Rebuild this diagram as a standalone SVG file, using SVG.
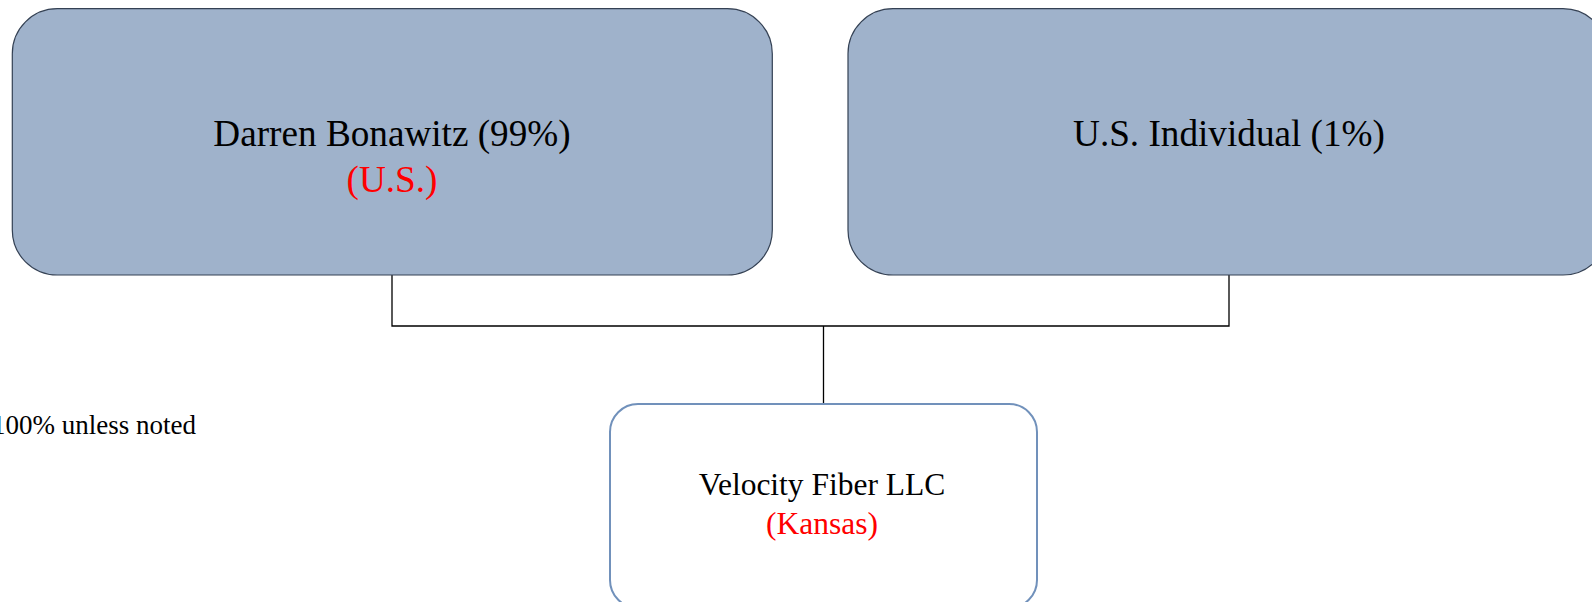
<svg xmlns="http://www.w3.org/2000/svg" width="1592" height="602" viewBox="0 0 1592 602">
<style>
.owner{fill:#9fb2cb;stroke:#344154;stroke-width:1.2}
.ent{fill:#ffffff;stroke:#7191bb;stroke-width:2}
.t{font-family:"Liberation Serif","Times New Roman",serif;text-anchor:middle;fill:#000}
.red{fill:#ff0000}
.conn{stroke:#000;stroke-width:1.3;fill:none}
</style>
<rect width="1592" height="602" fill="#fff"/>
<g id="connectors">
<path class="conn" d="M392 275V326H1229V275M823.5 326V404"/>
</g>
<g id="node-darren">
<rect class="owner" x="12.3" y="8.7" width="760" height="266.3" rx="45" ry="45"/>
<text class="t" x="392" y="146" font-size="37.2">Darren Bonawitz (99%)</text>
<text class="t red" x="392" y="192" font-size="37.2">(U.S.)</text>
</g>
<g id="node-usind">
<rect class="owner" x="848" y="8.7" width="760" height="266.3" rx="45" ry="45"/>
<text class="t" x="1229" y="146" font-size="37.2">U.S. Individual (1%)</text>
</g>
<g id="node-velocity">
<rect class="ent" x="610" y="404" width="427" height="204" rx="28" ry="28"/>
<text class="t" x="822" y="495" font-size="31.5">Velocity Fiber LLC</text>
<text class="t red" x="822" y="534" font-size="31.5">(Kansas)</text>
</g>
<text x="196" y="434" font-size="27" font-family="'Liberation Serif','Times New Roman',serif" text-anchor="end">100% unless noted</text>
</svg>
